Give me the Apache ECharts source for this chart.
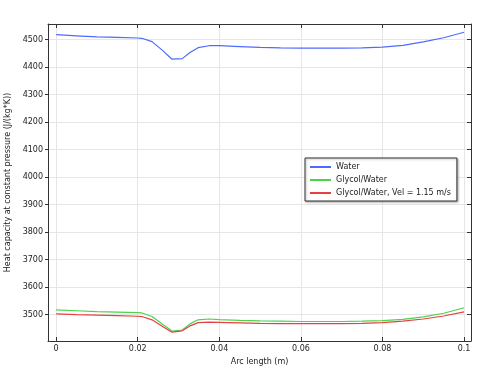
<!DOCTYPE html>
<html><head><meta charset="utf-8">
<script src="https://cdn.jsdelivr.net/npm/echarts@6/dist/echarts.min.js"></script>
<style>html,body{margin:0;padding:0;background:#fff}#c{width:481px;height:366px}</style>
</head><body><div id="c"></div>
<script>
var arcLength = [0, 0.005, 0.01, 0.015, 0.02, 0.021, 0.0235, 0.026, 0.0284, 0.0309, 0.033, 0.0348, 0.0375, 0.04, 0.045, 0.05, 0.055, 0.06, 0.065, 0.07, 0.075, 0.08, 0.085, 0.09, 0.095, 0.1];
var water = [4518, 4514, 4510, 4508, 4506, 4505, 4493, 4462, 4429, 4431, 4455, 4471, 4478, 4478, 4475, 4472, 4470, 4469, 4469, 4469, 4470, 4473, 4479, 4492, 4507, 4527];
var glycol = [3517, 3514, 3511, 3509, 3507, 3506, 3493, 3466, 3440, 3444, 3468, 3481, 3484, 3482, 3479, 3477, 3476, 3475, 3475, 3475, 3476, 3478, 3483, 3492, 3505, 3525];
var glycolVel = [3503, 3500, 3498, 3496, 3494, 3493, 3481, 3458, 3436, 3441, 3460, 3471, 3473, 3472, 3470, 3468, 3467, 3467, 3467, 3467, 3468, 3471, 3476, 3484, 3495, 3510];
var seriesNames = ['Water', 'Glycol/Water', 'Glycol/Water, Vel = 1.15 m/s'];
var xTicks = [0, 0.02, 0.04, 0.06, 0.08, 0.1];
var yTicks = [3500, 3600, 3700, 3800, 3900, 4000, 4100, 4200, 4300, 4400, 4500];
var xTitle = 'Arc length (m)';
var yTitle = 'Heat capacity at constant pressure (J/(kg*K))';

function pairs(ys){ return arcLength.map(function(x,i){return [x, ys[i]];}); }
var font = 'DejaVu Sans';
var colors = ['#4d6bff', '#4cd34c', '#e84040'];
var xr = {min:-0.002, max:0.1017}, yr = {min:3404, max:4557};

function xAxisDef(pos, main){
  return {type:'value', position:pos, min:xr.min, max:xr.max,
    name: main ? xTitle : '', nameLocation:'middle', nameGap:12,
    nameTextStyle:{fontFamily:font, fontSize:8, color:'#222'},
    axisLine:{show:true, onZero:false, lineStyle:{color:'#333', width:1}},
    axisTick:{show:true, inside:true, length:4, customValues:xTicks, lineStyle:{color:'#333'}},
    axisLabel:{show:main, customValues:xTicks, fontFamily:font, fontSize:8, color:'#222', margin:4,
      formatter:function(v){return String(+v.toFixed(3));}},
    splitLine:{show:main, lineStyle:{color:'#e6e6e6', width:1}}};
}
function yAxisDef(pos, main){
  return {type:'value', position:pos, min:yr.min, max:yr.max,
    name: main ? yTitle : '', nameLocation:'middle', nameGap:36, nameRotate:90,
    nameTextStyle:{fontFamily:font, fontSize:8, color:'#222'},
    axisLine:{show:true, onZero:false, lineStyle:{color:'#333', width:1}},
    axisTick:{show:true, inside:!main, length:main?3:4, customValues:yTicks, lineStyle:{color:'#333'}},
    axisLabel:{show:main, customValues:yTicks, fontFamily:font, fontSize:8, color:'#222', margin:5,
      formatter:function(v){return String(Math.round(v));}},
    splitLine:{show:main, lineStyle:{color:'#e6e6e6', width:1}}};
}

var chart = echarts.init(document.getElementById('c'), null, {renderer:'canvas'});
chart.setOption({
  animation:false,
  backgroundColor:'#fff',
  grid:{left:48, right:10, top:24, bottom:25, outerBoundsMode:'none', containLabel:false},
  xAxis:[xAxisDef('bottom', true), xAxisDef('top', false)],
  yAxis:[yAxisDef('left', true), yAxisDef('right', false)],
  legend:{
    orient:'vertical', left:305, top:158, width:157,
    padding:[5,6,4,5], itemGap:5, itemWidth:21, itemHeight:2,
    backgroundColor:'#fff', borderColor:'#333', borderWidth:1,
    shadowColor:'rgba(0,0,0,0.3)', shadowBlur:2, shadowOffsetX:1, shadowOffsetY:1,
    icon:'rect',
    textStyle:{fontFamily:font, fontSize:8, color:'#222', padding:[0,0,0,0]},
    data:seriesNames
  },
  series:[water, glycol, glycolVel].map(function(d,i){
    return {name:seriesNames[i], type:'line', data:pairs(d), showSymbol:false, symbol:'none',
      lineStyle:{color:colors[i], width:1.2}, itemStyle:{color:colors[i]}};
  })
});
</script></body></html>
